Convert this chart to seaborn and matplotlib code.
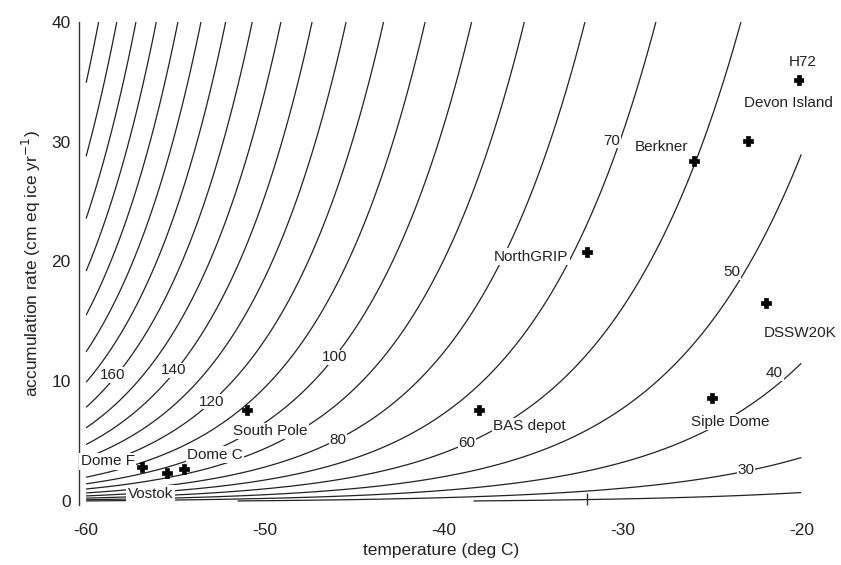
import numpy as np
import matplotlib
matplotlib.use("Agg")
import matplotlib.pyplot as plt
import seaborn as sns

sns.set_theme(style="white")
plt.rcParams['font.family'] = ['Liberation Sans', 'DejaVu Sans']
plt.rcParams['axes.unicode_minus'] = False

# ---- contour readings from the chart: (level, temperature degC, accumulation) ----
obs_level = [230, 220, 210, 200, 190, 180, 170, 160, 150, 140, 130, 120, 110, 100, 90, 80, 70, 60,
             230, 220, 210, 200, 190, 180, 170, 160, 150, 140, 120, 110, 100,
             140, 130, 120, 110, 100, 90,
             100, 80, 60, 70, 50, 40, 30, 160, 140, 120, 60,
             70, 60, 50, 40, 20, 30, 40, 50, 40, 30, 50,
             90, 90, 90, 90, 100, 100, 80, 80, 80, 80, 80, 80, 70, 70, 60, 60, 50, 50]
obs_temp = [-59.2, -58.1, -57.0, -56.0, -54.6, -53.4, -52.0, -50.5, -48.9, -47.1, -45.1, -43.1,
            -40.8, -38.2, -35.3, -32.3, -28.3, -23.7,
            -60, -60, -60, -60, -60, -60, -60, -60, -60, -60, -60, -60, -60,
            -51.1, -48.9, -46.7, -44.5, -42.0, -39.6,
            -46.1, -45.9, -38.7, -30.6, -23.9, -21.5, -23.1, -58.5, -55.1, -53.0, -26.0,
            -40.8, -40.8, -40.8, -40.8, -20, -20, -20, -20, -33.5, -33.5, -29.8,
            -50.9, -49.1, -47.2, -45.4, -46.7, -47.6, -54.7, -49.1, -46.9, -45.2, -44.1, -38.0,
            -54.7, -44.1, -54.7, -44.1, -52.9, -44.1]
obs_acc = [40, 40, 40, 40, 40, 40, 40, 40, 40, 40, 40, 40, 40, 40, 40, 40, 40, 40,
           35.2, 29.2, 24.6, 20.9, 16.5, 13.0, 10.5, 8.2, 6.5, 4.8, 1.8, 1.3, 1.06,
           22.6, 22.6, 22.6, 22.6, 22.6, 22.6,
           12.0, 5.1, 4.8, 30.1, 19.1, 10.7, 2.6, 10.5, 10.9, 8.3, 28.3,
           6.5, 3.4, 1.75, 0.7, 0.7, 4.1, 13, 32, 2.0, 0.7, 8.2,
           3.7, 4.8, 6.8, 8.9, 11.1, 9.3, 2.0, 3.4, 4.7, 5.7, 6.2, 11.5,
           1.34, 3.6, 0.67, 1.5, 0.5, 0.75]

levels = list(range(20, 240, 10))

site_names = ["H72", "Devon Island", "Berkner", "NorthGRIP", "DSSW20K", "BAS depot",
              "Siple Dome", "South Pole", "Dome F", "Dome C", "Vostok"]
site_temp = [-20.1, -23.0, -26.0, -32.0, -22.0, -38.0, -25.0, -51.0, -56.9, -54.5, -55.5]
site_acc = [35.2, 30.1, 28.4, 20.8, 16.5, 7.6, 8.6, 7.6, 2.85, 2.7, 2.3]
label_temp = [-19.9, -20.7, -27.8, -35.1, -20.05, -35.2, -24.0, -49.7, -58.8, -52.8, -56.4]
label_acc = [36.7, 33.2, 29.6, 20.4, 14.0, 6.25, 6.6, 5.85, 3.3, 3.85, 0.6]

clabel_levels = [160, 140, 120, 100, 80, 60, 70, 50, 40, 30]
clabel_temp = [-58.5, -55.1, -53.0, -46.1, -45.9, -38.7, -30.6, -23.9, -21.5, -23.1]
clabel_acc = [10.5, 10.9, 8.3, 12.0, 5.1, 4.8, 30.1, 19.1, 10.7, 2.6]

x_ticks = [-60, -50, -40, -30, -20]
x_marker_tick = [-32]
y_ticks = [0, 10, 20, 30, 40]

# ---- smooth field fitted through the contour readings ----
L = np.array(obs_level, float)
Tt = np.array(obs_temp, float)
Aa = np.array(obs_acc, float)
U_COLD = 1000.0 / 213.15
U_SPAN = 1000.0 / 253.15 - U_COLD


def shape(A, p, a0):
    x = 1.0 + A / a0
    p = np.asarray(p, float)
    small = np.abs(p) < 1e-9
    ps = np.where(small, 1.0, p)
    return np.where(small, np.log(x), (x**ps - 1.0) / ps)


u = 1000.0 / (Tt + 273.15) - U_COLD
fr = u / U_SPAN
n = len(L)
k2s = np.linspace(0.0, 4.0, 41)
best = None
for pc in np.arange(0.0, 0.61, 0.05):
    for pw in np.arange(0.0, 0.61, 0.05):
        pp = pc + (pw - pc) * fr
        for a0 in [0.2, 0.5, 1.0, 2.0]:
            g = shape(Aa, pp, a0)
            for k1 in np.linspace(0.5, 5.0, 46):
                X1 = np.exp(k1 * u) / L
                X2 = np.exp(np.outer(k2s, u)) * g / L
                s11 = X1 @ X1
                s12 = X2 @ X1
                s22 = (X2 * X2).sum(1)
                t1 = X1.sum()
                t2 = X2.sum(1)
                det = s11 * s22 - s12**2
                c1 = (t1 * s22 - t2 * s12) / det
                c2 = (s11 * t2 - s12 * t1) / det
                r = n - 2 * (c1 * t1 + c2 * t2) + c1**2 * s11 + 2 * c1 * c2 * s12 + c2**2 * s22
                r = np.where(c1 > 0, r, np.inf)
                i = int(np.argmin(r))
                if best is None or r[i] < best[0]:
                    best = (r[i], pc, pw, a0, k1, k2s[i], c1[i], c2[i])
_, PC, PW, A0, K1, K2, C1, C2 = best


def field(T, A):
    uu = 1000.0 / (T + 273.15) - U_COLD
    pp = PC + (PW - PC) * uu / U_SPAN
    return C1 * np.exp(K1 * uu) + C2 * np.exp(K2 * uu) * shape(A, pp, A0)


# ---- figure ----
fig = plt.figure(figsize=(8.41, 5.65), dpi=100)
ax = fig.add_axes([0.0939, 0.107, 0.861, 0.854])

tg = np.linspace(-60, -20, 401)
ag = np.linspace(0, 40, 801)
TT, AA = np.meshgrid(tg, ag)
ZZ = field(TT, AA)
ax.contour(TT, AA, ZZ, levels=levels, colors='#222222', linewidths=0.9)
for lv, x, y in zip(clabel_levels, clabel_temp, clabel_acc):
    ax.text(x, y, str(lv), ha='center', va='center', fontsize=11, color='#222222', zorder=6,
            bbox=dict(fc='white', ec='none', pad=0.6))

sns.scatterplot(x=site_temp, y=site_acc, marker='P', s=55, color='black',
                edgecolor='black', linewidth=0.5, ax=ax, zorder=5, legend=False)
for nm, x, y in zip(site_names, label_temp, label_acc):
    ax.text(x, y, nm, ha='center', va='center', fontsize=11, color='#222222', zorder=6,
            bbox=dict(fc='white', ec='none', pad=1.0))

ax.set_xlim(-60.4, -19.9)
ax.set_ylim(-0.3, 40)
ax.set_xticks(x_ticks)
ax.set_xticks(x_marker_tick, minor=True)
ax.set_yticks(y_ticks)
for s in ['top', 'right', 'bottom']:
    ax.spines[s].set_visible(False)
ax.spines['left'].set_color('#333333')
ax.spines['left'].set_linewidth(1.0)
ax.tick_params(axis='y', direction='in', length=10, width=1.4, labelsize=12.5, colors='#333333', pad=6)
ax.tick_params(axis='x', which='major', direction='out', length=5, width=1.2, labelsize=12.5,
               colors='#333333', pad=8)
ax.tick_params(axis='x', which='minor', direction='in', length=9, width=1.0, colors='#333333',
               bottom=True)
ax.tick_params(axis='both', labelcolor='#222222')
ax.set_xlabel('temperature (deg C)', fontsize=12.5, color='#222222', labelpad=4)
ax.set_ylabel('accumulation rate (cm eq ice yr$^{-1}$)', fontsize=12.5, color='#222222', labelpad=6)
fig.savefig('out.png', dpi=100)
